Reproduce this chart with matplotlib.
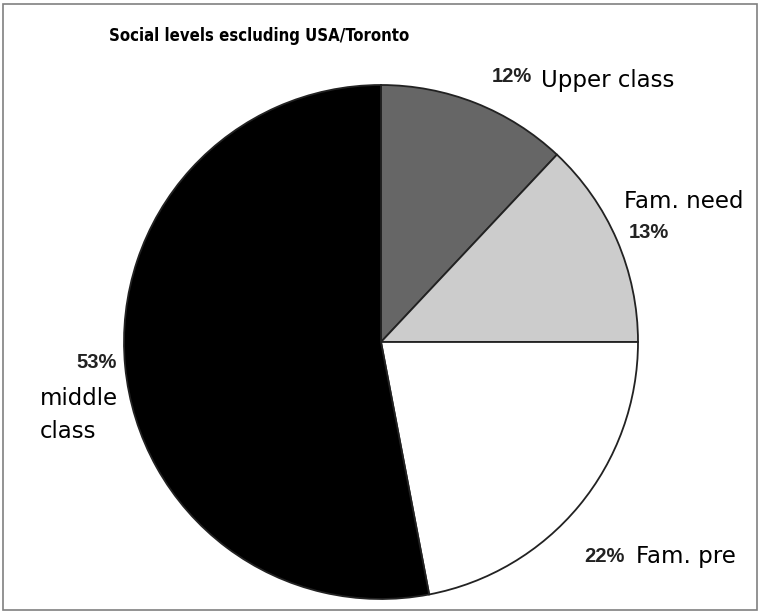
import matplotlib.pyplot as plt
from matplotlib.patches import Rectangle

# Data
labels = ['Upper class', 'Fam. need', 'Fam. pre', 'middle\nclass']
shares = [12, 13, 22, 53]
colors = ['#666666', '#cccccc', '#ffffff', '#000000']
title = 'Social levels escluding USA/Toronto'

fig = plt.figure(figsize=(7.6, 6.12), dpi=100)

# outer frame
fig.patches.append(Rectangle((0.004, 0.004), 0.992, 0.99, transform=fig.transFigure,
                             fill=False, edgecolor='#808080', lw=1.2))

# axes sized so that radius 1 = r px, centre at (cx, cy) px from top-left
cx, cy, r = 381, 342, 257
ax = fig.add_axes([(cx - r) / 760, (612 - cy - r) / 612, 2 * r / 760, 2 * r / 612])
ax.pie(shares, colors=colors, startangle=90, counterclock=False,
       wedgeprops=dict(edgecolor='#222222', linewidth=1.3))
ax.set_xlim(-1, 1)
ax.set_ylim(-1, 1)
ax.set_aspect('auto')
ax.axis('off')

def px(x, y):
    return ((x - cx) / r, (cy - y) / r)

pct_font = dict(family='Liberation Sans', fontweight='bold', fontsize=14.5, color='#222222')
lab_font = dict(family='DejaVu Sans', fontsize=16.5, color='black')

# Upper class
ax.text(*px(532, 77), f'{shares[0]}%', ha='right', va='center', **pct_font)
ax.text(*px(541, 80), labels[0], ha='left', va='center', **lab_font)
# Fam. need
ax.text(*px(624, 201), labels[1], ha='left', va='center', **lab_font)
ax.text(*px(629, 233), f'{shares[1]}%', ha='left', va='center', **pct_font)
# Fam. pre
ax.text(*px(625, 557), f'{shares[2]}%', ha='right', va='center', **pct_font)
ax.text(*px(636, 557), labels[2], ha='left', va='center', **lab_font)
# middle class
ax.text(*px(117, 362), f'{shares[3]}%', ha='right', va='center', **pct_font)
ax.text(*px(40, 415), labels[3], ha='left', va='center', linespacing=1.6, **lab_font)

fig.text(259 / 760, 1 - 36 / 612, title, ha='center', va='center',
         family='DejaVu Sans', fontstretch='condensed', fontweight='bold', fontsize=12)

fig.savefig('out.png', dpi=100)
